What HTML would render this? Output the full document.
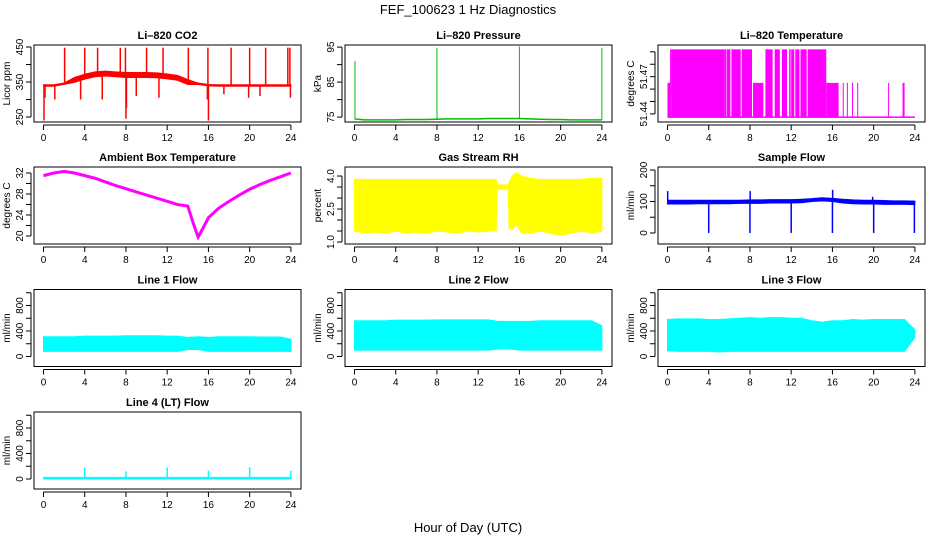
<!DOCTYPE html>
<html><head><meta charset="utf-8"><style>
html,body{margin:0;padding:0;background:#fff;}
svg{display:block;font-family:"Liberation Sans",Arial,sans-serif;}
</style></head><body>
<svg id="chart" width="936" height="540" viewBox="0 0 936 540" xmlns="http://www.w3.org/2000/svg">
<text x="468" y="14" text-anchor="middle" font-size="13">FEF_100623  1 Hz Diagnostics</text>
<text x="468" y="532" text-anchor="middle" font-size="13">Hour of Day (UTC)</text>
</svg>
<script>
// ---------- data ----------
const hours = [0,1,2,3,4,5,6,7,8,9,10,11,12,13,14,15,16,17,18,19,20,21,22,23,24];
const xTicks = [0,4,8,12,16,20,24];

const co2Mid = [340,340,345,356,365,372,374,372,370,370,370,369,366,362,350,345,341,340,340,340,340,340,340,340,340];
const co2SpikeT = [2.05,4.0,5.25,7.45,7.95,10.0,11.6,14.05,15.95,18.2,20.0,21.55,23.7,23.9];
const co2SpikeV = [448,448,448,448,448,448,448,448,448,448,448,448,448,448];
const co2DipT = [0.05,0.15,1.1,3.6,5.7,8.0,8.05,9.0,11.2,16.0,15.9,17.5,19.9,21.0,23.95];
const co2DipV = [240,305,300,300,300,245,275,310,305,240,300,315,305,310,305];

const presBase = [74.5,74.2,74.2,74.2,74.2,74.3,74.3,74.3,74.4,74.5,74.5,74.5,74.5,74.6,74.6,74.6,74.6,74.5,74.4,74.3,74.3,74.2,74.2,74.2,74.2];
const presSpikeT = [0.05,8.0,16.0,24.0];
const presSpikeV = [91,94.8,95.2,94.8];

const tempLevels = [51.438,51.465,51.492];
const tempSegStart = [0.0,0.25,0.35,5.5,5.75,6.2,7.2,8.3,9.5,10.4,11.1,11.8,12.0,12.4,12.9,13.6,15.4,17.0,17.4,17.9,18.4,21.4,22.8,0.0];
const tempSegEnd   = [0.25,0.35,5.5,5.7,6.1,7.1,8.2,9.3,10.2,10.9,11.6,11.95,12.3,12.8,13.5,15.4,16.6,17.1,17.5,18.0,18.5,21.5,23.0,24.0];
const tempSegLevel = [1,2,2,2,2,2,2,1,2,2,2,2,2,2,2,2,1,1,1,1,1,1,1,0];

const ambT = [0,1,2,3,4,5,6,7,8,9,10,11,12,13,14,14.5,15,15.5,16,17,18,19,20,21,22,23,24];
const ambV = [31.5,32,32.3,32,31.5,31,30.3,29.6,29,28.4,27.8,27.2,26.6,26,25.7,22.6,19.8,21.6,23.5,25.3,26.6,27.8,28.9,29.8,30.6,31.3,32];

const rhT  = [0,1,2,3,4,5,6,7,8,9,10,11,12,13,13.75,13.8,14.9,15.0,15.3,15.7,16.2,17,18,19,20,21,22,23,24];
const rhHi = [3.85,3.85,3.85,3.85,3.85,3.85,3.85,3.85,3.85,3.85,3.85,3.85,3.85,3.85,3.85,3.6,3.6,3.7,4.0,4.15,4.0,3.9,3.85,3.85,3.85,3.85,3.85,3.9,3.9];
const rhLo = [1.5,1.4,1.45,1.4,1.5,1.4,1.45,1.4,1.5,1.45,1.4,1.5,1.45,1.5,1.5,3.4,3.4,1.6,1.6,1.8,1.4,1.4,1.5,1.4,1.3,1.4,1.5,1.4,1.5];

const sfHi = [104,104,104,104,104,104,104,104,105,105,106,106,106,107,109,112,110,107,105,104,104,103,102,102,101];
const sfLo = [92,92,92,93,93,93,93,94,94,94,95,95,95,96,100,102,100,95,93,92,92,91,91,91,90];
const sfEventT = [4.0,8.0,12.0,16.0,20.0,23.95];
const sfEventLo = [0,0,0,0,0,0];
const sfSpikeT = [0.02,8.02,16.02,19.9];
const sfSpikeV = [133,133,137,115];

const l1Hi = [310,310,310,310,320,320,320,320,325,325,325,325,320,320,300,310,300,310,310,310,310,305,305,305,270];
const l1Lo = [80,80,80,80,80,80,80,80,80,80,80,80,80,80,110,110,80,80,80,80,80,80,80,80,80];
const l2Hi = [560,560,560,560,570,570,570,570,575,575,575,575,575,575,550,550,550,550,560,560,560,560,560,560,480];
const l2Lo = [100,100,100,100,100,100,100,100,100,100,100,100,100,100,120,120,100,100,100,100,100,100,100,100,100];
const l3Hi = [580,590,590,590,580,580,590,600,610,600,610,610,600,600,560,540,560,560,580,570,580,580,580,580,420];
const l3Lo = [90,80,80,80,80,70,80,80,80,80,80,80,80,80,80,80,80,80,80,80,80,80,80,80,300];
const l4SpikeT = [4.0,8.0,12.0,16.0,20.0,24.0];
const l4SpikeV = [180,120,180,130,185,130];

// ---------- layout ----------
const NS='http://www.w3.org/2000/svg';
const svg=document.getElementById('chart');
const colLeft=[34,345,658], rowTop=[45,167,289.5,412], W=267, H=77;
const XMIN=-0.92, XMAX=24.98;
function el(tag,attrs,parent){const e=document.createElementNS(NS,tag);for(const k in attrs)e.setAttribute(k,attrs[k]);(parent||svg).appendChild(e);return e;}

function panel(name,col,row,ylim,yTicks,yLabels,ylab,title){
  const g=el('g',{});
  
  
  const L=colLeft[col],T=rowTop[row];
  const sx=v=>L+(v-XMIN)/(XMAX-XMIN)*W;
  const sy=v=>T+H-(v-ylim[0])/(ylim[1]-ylim[0])*H;
  const t=el('text',{x:L+W/2,y:T-6,'text-anchor':'middle','font-size':'11','font-weight':'bold'},g);
  t.textContent=title;
  
  
  const plot=el('g',{},g);
  
  
  const box=el('rect',{x:L,y:T,width:W,height:H,fill:'none',stroke:'#000','stroke-width':1},g);
  
  
  const xa=el('g',{},g);
  
  
  el('line',{x1:sx(0),x2:sx(24),y1:T+H+3,y2:T+H+3,stroke:'#000'},xa);
  xTicks.forEach(v=>{
    el('line',{x1:sx(v),x2:sx(v),y1:T+H+3,y2:T+H+8,stroke:'#000'},xa);
    const tx=el('text',{x:sx(v),y:T+H+19,'text-anchor':'middle','font-size':'10'},xa);tx.textContent=v;
  });
  const ya=el('g',{},g);
  
  
  el('line',{x1:L-3,x2:L-3,y1:sy(yTicks[0]),y2:sy(yTicks[yTicks.length-1]),stroke:'#000'},ya);
  yTicks.forEach(v=>{el('line',{x1:L-3,x2:L-8,y1:sy(v),y2:sy(v),stroke:'#000'},ya);});
  yLabels.forEach(v=>{
    const x=L-11,y=sy(v);
    const tx=el('text',{x:x,y:y,'text-anchor':'middle','font-size':'10',transform:`rotate(-90 ${x} ${y})`},ya);tx.textContent=v;
  });
  const yx=L-24,yy=T+H/2;
  const yt=el('text',{x:yx,y:yy,'text-anchor':'middle','font-size':'10',transform:`rotate(-90 ${yx} ${yy})`},g);
  yt.textContent=ylab;
  
  
  return {sx,sy,plot};
}
function band(p,ts,hi,lo,color,nm){
  let d='M'+ts.map((t,i)=>p.sx(t)+','+p.sy(hi[i])).join('L');
  for(let i=ts.length-1;i>=0;i--)d+='L'+p.sx(ts[i])+','+p.sy(lo[i]);
  const e=el('path',{d:d+'Z',fill:color,stroke:color,'stroke-width':1},p.plot);
  
  
}
function line(p,ts,vs,color,w,nm){
  const e=el('polyline',{points:ts.map((t,i)=>p.sx(t)+','+p.sy(vs[i])).join(' '),fill:'none',stroke:color,'stroke-width':w},p.plot);
  
  
}
function spikes(p,ts,vs,base,color,w,nm){
  ts.forEach((t,i)=>{
    const b=Array.isArray(base)?base[i]:base;
    const e=el('line',{x1:p.sx(t),x2:p.sx(t),y1:p.sy(b),y2:p.sy(vs[i]),stroke:color,'stroke-width':w},p.plot);
    
    
  });
}
function interp(ts,vs,t){for(let i=1;i<ts.length;i++)if(t<=ts[i]){const f=(t-ts[i-1])/(ts[i]-ts[i-1]);return vs[i-1]+f*(vs[i]-vs[i-1]);}return vs[vs.length-1];}

// CO2
let p=panel('co2',0,0,[235.7,455.7],[250,300,350,400,450],[250,350,450],'Licor ppm','Li\u2013820 CO2');
band(p,hours,co2Mid.map(v=>v+(v>345?7:2)),co2Mid.map(v=>v-(v>345?7:2)),'#ff0000','co2-band');
spikes(p,co2SpikeT,co2SpikeV,co2SpikeT.map(t=>interp(hours,co2Mid,t)),'#ff0000',1.5,'co2-spike');
spikes(p,co2DipT,co2DipV,co2DipT.map(t=>interp(hours,co2Mid,t)),'#ff0000',1.5,'co2-dip');
// Pressure
p=panel('pressure',1,0,[73.6,95.6],[75,80,85,90,95],[75,85,95],'kPa','Li\u2013820 Pressure');
line(p,hours,presBase,'#00c000',1.5,'pressure-line');
spikes(p,presSpikeT,presSpikeV,presSpikeT.map(t=>interp(hours,presBase,t)),'#00c000',1,'pressure-spike');
// Temperature
p=panel('li820-temp',2,0,[51.4335,51.4955],[51.44,51.45,51.46,51.47,51.48,51.49],[51.44,51.47],'degrees C','Li\u2013820 Temperature');
tempSegStart.forEach((s,i)=>{
  const top=p.sy(tempLevels[tempSegLevel[i]]);
  const e=el('rect',{x:p.sx(s),y:top,width:Math.max(0.8,p.sx(tempSegEnd[i])-p.sx(s)),height:Math.max(1.5,p.sy(tempLevels[0])-top+1),fill:'#ff00ff'},p.plot);
  
  
});
// Ambient
p=panel('ambient-temp',0,1,[18.48,33.14],[20,22,24,26,28,30,32],[20,24,28,32],'degrees C','Ambient Box Temperature');
line(p,ambT,ambV,'#ff00ff',3,'ambient-line');
// RH
p=panel('rh',1,1,[0.91,4.41],[1,1.5,2,2.5,3,3.5,4],['1.0','2.5','4.0'],'percent','Gas Stream RH');
band(p,rhT,rhHi,rhLo,'#ffff00','rh-band');
// Sample flow
p=panel('sample-flow',2,1,[-35,209.5],[0,50,100,150,200],[0,100,200],'ml/min','Sample Flow');
band(p,hours,sfHi,sfLo,'#0000ff','sample-flow-band');
spikes(p,sfEventT,sfEventLo,sfEventT.map(t=>interp(hours,sfLo,t)),'#0000ff',1.5,'sample-flow-dip');
spikes(p,sfSpikeT,sfSpikeV,sfSpikeT.map(t=>interp(hours,sfHi,t)),'#0000ff',1.5,'sample-flow-spike');
// Line flows
const fT=[0,200,400,600,800,1000], fL=[0,400,800], ylimF=[-157,1051];
p=panel('line1-flow',0,2,ylimF,fT,fL,'ml/min','Line 1 Flow');band(p,hours,l1Hi,l1Lo,'#00ffff','line1-band');
p=panel('line2-flow',1,2,ylimF,fT,fL,'ml/min','Line 2 Flow');band(p,hours,l2Hi,l2Lo,'#00ffff','line2-band');
p=panel('line3-flow',2,2,ylimF,fT,fL,'ml/min','Line 3 Flow');band(p,hours,l3Hi,l3Lo,'#00ffff','line3-band');
p=panel('line4-flow',0,3,ylimF,fT,fL,'ml/min','Line 4 (LT) Flow');
band(p,[0,24],[25,25],[0,0],'#00ffff','line4-band');
spikes(p,l4SpikeT,l4SpikeV,0,'#00ffff',1.5,'line4-spike');
</script>
</body></html>
